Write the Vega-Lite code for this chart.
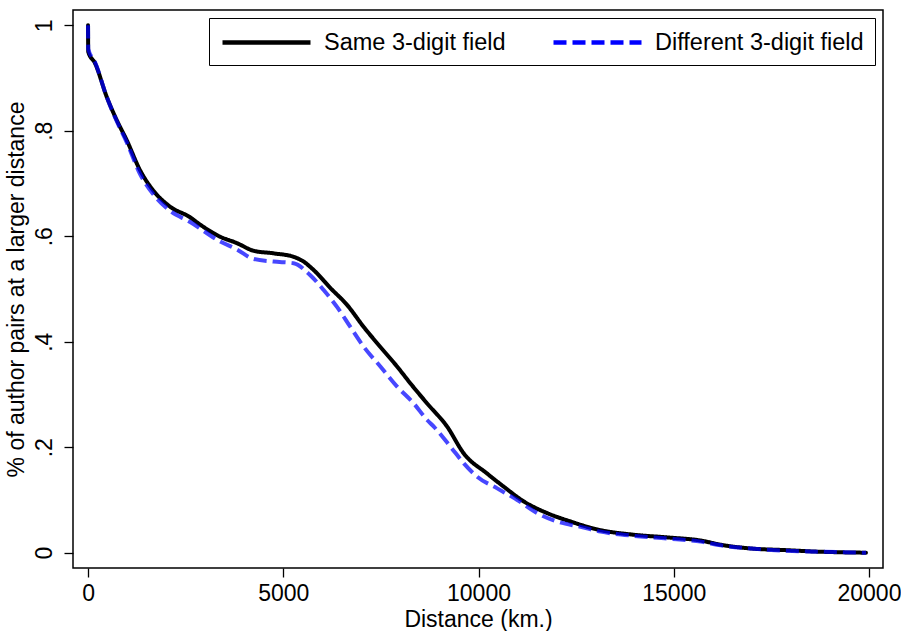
{
  "$schema": "https://vega.github.io/schema/vega-lite/v6.json",
  "autosize": {"type": "none"},
  "padding": {"left": 73, "top": 10, "right": 18, "bottom": 63},
  "width": 810,
  "height": 558,
  "background": "white",
  "config": {
    "view": {"stroke": "black", "strokeWidth": 1.5},
    "font": "Liberation Sans",
    "axis": {"grid": false, "domain": false, "tickColor": "black", "tickWidth": 1.3, "tickSize": 9, "labelFont": "Liberation Sans", "labelFontSize": 23, "labelColor": "black", "titleFont": "Liberation Sans", "titleFontSize": 23, "titleFontWeight": "normal", "titleColor": "black"}
  },
  "datasets": {
    "curves": [
      {"series": "Same 3-digit field", "distance": 0, "share": 1.0},
      {"series": "Same 3-digit field", "distance": 5, "share": 0.95},
      {"series": "Same 3-digit field", "distance": 180, "share": 0.928},
      {"series": "Same 3-digit field", "distance": 480, "share": 0.864},
      {"series": "Same 3-digit field", "distance": 736, "share": 0.82},
      {"series": "Same 3-digit field", "distance": 992, "share": 0.782},
      {"series": "Same 3-digit field", "distance": 1333, "share": 0.725},
      {"series": "Same 3-digit field", "distance": 1667, "share": 0.687},
      {"series": "Same 3-digit field", "distance": 2103, "share": 0.656},
      {"series": "Same 3-digit field", "distance": 2615, "share": 0.636},
      {"series": "Same 3-digit field", "distance": 2872, "share": 0.622},
      {"series": "Same 3-digit field", "distance": 3385, "share": 0.599},
      {"series": "Same 3-digit field", "distance": 3812, "share": 0.587},
      {"series": "Same 3-digit field", "distance": 4239, "share": 0.5725},
      {"series": "Same 3-digit field", "distance": 4752, "share": 0.5676},
      {"series": "Same 3-digit field", "distance": 5265, "share": 0.561},
      {"series": "Same 3-digit field", "distance": 5500, "share": 0.553},
      {"series": "Same 3-digit field", "distance": 5778, "share": 0.536},
      {"series": "Same 3-digit field", "distance": 6205, "share": 0.502},
      {"series": "Same 3-digit field", "distance": 6632, "share": 0.47},
      {"series": "Same 3-digit field", "distance": 7060, "share": 0.428},
      {"series": "Same 3-digit field", "distance": 7487, "share": 0.39},
      {"series": "Same 3-digit field", "distance": 7915, "share": 0.353},
      {"series": "Same 3-digit field", "distance": 8256, "share": 0.321},
      {"series": "Same 3-digit field", "distance": 8684, "share": 0.283},
      {"series": "Same 3-digit field", "distance": 9197, "share": 0.239},
      {"series": "Same 3-digit field", "distance": 9624, "share": 0.188},
      {"series": "Same 3-digit field", "distance": 10222, "share": 0.15},
      {"series": "Same 3-digit field", "distance": 10650, "share": 0.125},
      {"series": "Same 3-digit field", "distance": 11162, "share": 0.097},
      {"series": "Same 3-digit field", "distance": 11761, "share": 0.075},
      {"series": "Same 3-digit field", "distance": 12359, "share": 0.059},
      {"series": "Same 3-digit field", "distance": 13043, "share": 0.044},
      {"series": "Same 3-digit field", "distance": 13983, "share": 0.034},
      {"series": "Same 3-digit field", "distance": 14838, "share": 0.029},
      {"series": "Same 3-digit field", "distance": 15692, "share": 0.023},
      {"series": "Same 3-digit field", "distance": 16205, "share": 0.015},
      {"series": "Same 3-digit field", "distance": 16974, "share": 0.008},
      {"series": "Same 3-digit field", "distance": 17829, "share": 0.005},
      {"series": "Same 3-digit field", "distance": 18684, "share": 0.002},
      {"series": "Same 3-digit field", "distance": 19923, "share": 0.0},
      {"series": "Different 3-digit field", "distance": 0, "share": 1.0},
      {"series": "Different 3-digit field", "distance": 5, "share": 0.955},
      {"series": "Different 3-digit field", "distance": 180, "share": 0.93},
      {"series": "Different 3-digit field", "distance": 480, "share": 0.864},
      {"series": "Different 3-digit field", "distance": 736, "share": 0.818},
      {"series": "Different 3-digit field", "distance": 992, "share": 0.778},
      {"series": "Different 3-digit field", "distance": 1333, "share": 0.718},
      {"series": "Different 3-digit field", "distance": 1667, "share": 0.68},
      {"series": "Different 3-digit field", "distance": 2103, "share": 0.648},
      {"series": "Different 3-digit field", "distance": 2615, "share": 0.627},
      {"series": "Different 3-digit field", "distance": 3385, "share": 0.59},
      {"series": "Different 3-digit field", "distance": 3812, "share": 0.575},
      {"series": "Different 3-digit field", "distance": 4239, "share": 0.557},
      {"series": "Different 3-digit field", "distance": 4752, "share": 0.552},
      {"series": "Different 3-digit field", "distance": 5265, "share": 0.549},
      {"series": "Different 3-digit field", "distance": 5692, "share": 0.526},
      {"series": "Different 3-digit field", "distance": 6034, "share": 0.498},
      {"series": "Different 3-digit field", "distance": 6376, "share": 0.466},
      {"series": "Different 3-digit field", "distance": 6718, "share": 0.428},
      {"series": "Different 3-digit field", "distance": 7060, "share": 0.3905},
      {"series": "Different 3-digit field", "distance": 7487, "share": 0.353},
      {"series": "Different 3-digit field", "distance": 7915, "share": 0.315},
      {"series": "Different 3-digit field", "distance": 8341, "share": 0.283},
      {"series": "Different 3-digit field", "distance": 8684, "share": 0.2516},
      {"series": "Different 3-digit field", "distance": 8855, "share": 0.239},
      {"series": "Different 3-digit field", "distance": 9282, "share": 0.201},
      {"series": "Different 3-digit field", "distance": 9624, "share": 0.1695},
      {"series": "Different 3-digit field", "distance": 9966, "share": 0.144},
      {"series": "Different 3-digit field", "distance": 10479, "share": 0.122},
      {"series": "Different 3-digit field", "distance": 10992, "share": 0.1},
      {"series": "Different 3-digit field", "distance": 11505, "share": 0.075},
      {"series": "Different 3-digit field", "distance": 12017, "share": 0.059},
      {"series": "Different 3-digit field", "distance": 12615, "share": 0.049},
      {"series": "Different 3-digit field", "distance": 13128, "share": 0.04},
      {"series": "Different 3-digit field", "distance": 13983, "share": 0.032},
      {"series": "Different 3-digit field", "distance": 14838, "share": 0.027},
      {"series": "Different 3-digit field", "distance": 15692, "share": 0.021},
      {"series": "Different 3-digit field", "distance": 16205, "share": 0.014},
      {"series": "Different 3-digit field", "distance": 16974, "share": 0.008},
      {"series": "Different 3-digit field", "distance": 17829, "share": 0.004},
      {"series": "Different 3-digit field", "distance": 18684, "share": 0.002},
      {"series": "Different 3-digit field", "distance": 19923, "share": 0.0}
    ]
  },
  "data": {"name": "curves"},
  "encoding": {
    "x": {
      "field": "distance", "type": "quantitative",
      "scale": {"domain": [-385, 20359], "nice": false, "zero": false},
      "axis": {"title": "Distance (km.)", "values": [0, 5000, 10000, 15000, 20000], "format": "d", "labelPadding": 5, "titlePadding": 3}
    },
    "y": {
      "field": "share", "type": "quantitative",
      "scale": {"domain": [-0.029, 1.029], "nice": false, "zero": false},
      "axis": {"title": "% of author pairs at a larger distance", "values": [0, 0.2, 0.4, 0.6, 0.8, 1],
        "labelExpr": "datum.value == 0 ? '0' : datum.value == 1 ? '1' : '.' + round(datum.value * 10)",
        "labelAngle": 270, "labelAlign": "center", "labelBaseline": "bottom", "labelPadding": 8, "titlePadding": 5}
    },
    "color": {
      "field": "series", "type": "nominal",
      "scale": {"domain": ["Same 3-digit field", "Different 3-digit field"], "range": ["black", "blue"]},
      "legend": {
        "title": null, "orient": "none", "legendX": 136, "legendY": 8, "direction": "horizontal",
        "symbolType": "M-1,0H7", "symbolSize": 484, "symbolStrokeWidth": 4.5, "symbolOpacity": 1,
        "labelFont": "Liberation Sans", "labelFontSize": 23.5, "labelColor": "black", "labelOffset": 77, "labelLimit": 0,
        "columnPadding": 38, "padding": 11, "strokeColor": "black", "fillColor": "white"
      }
    },
    "strokeDash": {
      "field": "series", "type": "nominal",
      "scale": {"domain": ["Same 3-digit field", "Different 3-digit field"], "range": [[1, 0], [13, 6]]},
      "legend": null
    }
  },
  "layer": [
    {
      "transform": [{"filter": "datum.series == 'Same 3-digit field'"}],
      "mark": {"type": "line", "strokeWidth": 4, "interpolate": "monotone", "strokeCap": "round"}
    },
    {
      "transform": [{"filter": "datum.series == 'Different 3-digit field'"}],
      "mark": {"type": "line", "strokeWidth": 4, "interpolate": "monotone", "opacity": 0.72, "strokeCap": "butt"}
    }
  ]
}
